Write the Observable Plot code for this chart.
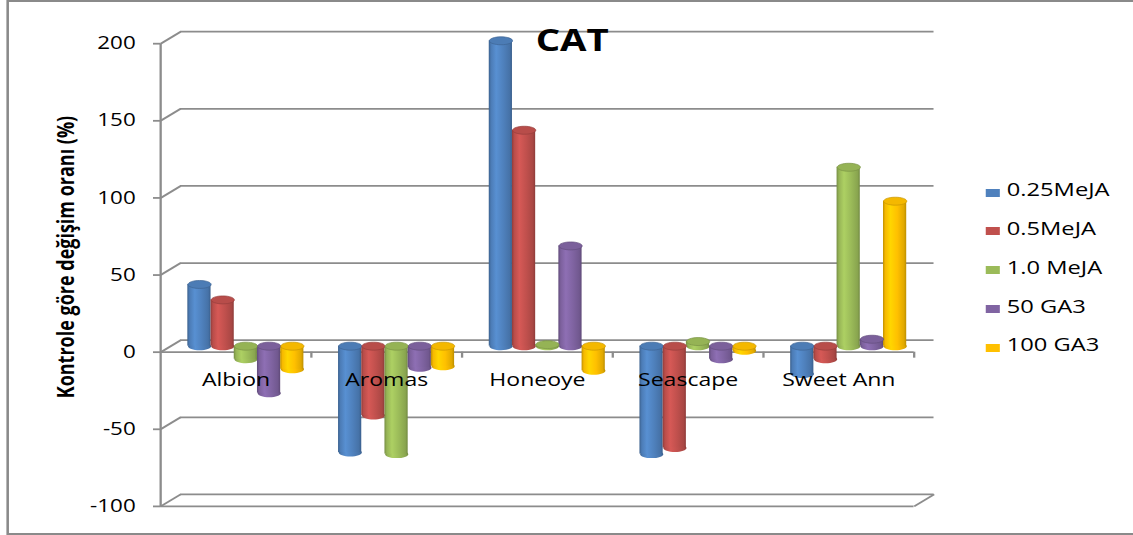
<!DOCTYPE html>
<html>
<head>
<meta charset="utf-8">
<script src="https://cdn.jsdelivr.net/npm/d3@7"></script>
<script src="https://cdn.jsdelivr.net/npm/@observablehq/plot@0.6"></script>
<style>
  html, body { margin: 0; padding: 0; background: #fff; overflow: hidden; }
  /* the chart is laid out at 885px and widened horizontally to 1133px */
  #chart { position: relative; width: 885px; height: 535px; transform: scaleX(1.2802); transform-origin: 0 0;
           font-family: "Open Sans", sans-serif; color: #000; }
  #frame { position: absolute; left: 5px; top: 0; width: 1000px; height: 535px; box-sizing: border-box;
           border: 2px solid #8a8a8a; }
  #plot { position: absolute; left: 0; top: 0; }
  #legend { position: absolute; left: 770px; top: 0; }
  .row { position: absolute; left: 0; height: 26px; line-height: 26px; font-size: 18.5px; white-space: nowrap; }
  .sw { position: absolute; left: 0; top: 12.3px; width: 11px; height: 8px; }
  .lab { position: absolute; left: 16.4px; top: 0; }
</style>
</head>
<body>
<div id="chart">
  <div id="frame"></div>
  <div id="plot"></div>
  <div id="legend"></div>
</div>
<script>
// Cultivars and treatments
const categories = ["Albion", "Aromas", "Honeoye", "Seascape", "Sweet Ann"];
const seriesNames = ["0.25MeJA", "0.5MeJA", "1.0 MeJA", "50 GA3", "100 GA3"];

// Change relative to control (%), one value per cultivar
const meja025 = [40, -69, 198, -70, -18];
const meja05 = [30, -45, 140, -66, -8.5];
const meja10 = [-8.5, -70, 1, 3, 116];
const ga50 = [-30.5, -14, 65, -8.5, 4.5];
const ga100 = [-15, -13, -16, -3, 94];
const seriesValues = [meja025, meja05, meja10, ga50, ga100];

const seriesColors = ["#4F81BD", "#C0504D", "#9BBB59", "#8064A2", "#FFC000"];
const yTicks = [-100, -50, 0, 50, 100, 150, 200];
const chartTitle = "CAT";
const yTitle = "Kontrole göre değişim oranı (%)";

// layout
const W = 885, H = 535;
const mL = 132.8, mR = 163.6, mT = 37.2, mB = 35.1;
const DX = 7.8, DY = 6;              // half-depth of the 3D box, px
const GRID = "#8c8c8c";
const PAD = 0.115;                    // gap at each side of a bar group (category units)
const BW = (1 - 2 * PAD) / seriesNames.length;
const RX = 9.05, RY_RATIO = 0.44;     // cylinder end ellipses

const pxX = px => px * categories.length / (W - mL - mR);
const pxY = px => px * 300 / (H - mT - mB);
const ux = pxX(DX), uy = pxY(DY);

const rows = categories.flatMap((cat, ci) =>
  seriesValues.map((vals, si) => ({cat, ci, si, value: vals[ci]})));

const x1Of = d => d.ci + PAD + d.si * BW;
const cxOf = d => x1Of(d) + BW / 2;

const ellipse = {
  draw(context, size) {
    const rx = Math.sqrt(size / Math.PI), ry = rx * RY_RATIO, k = 0.5523;
    context.moveTo(-rx, 0);
    context.bezierCurveTo(-rx, -ry * k, -rx * k, -ry, 0, -ry);
    context.bezierCurveTo(rx * k, -ry, rx, -ry * k, rx, 0);
    context.bezierCurveTo(rx, ry * k, rx * k, ry, 0, ry);
    context.bezierCurveTo(-rx * k, ry, -rx, ry * k, -rx, 0);
    context.closePath();
  }
};

const capFill = seriesColors.map(c => d3.color(c).darker(0.12).formatHex());
const capStroke = seriesColors.map(c => d3.color(c).darker(0.7).formatHex());

const svg = Plot.plot({
  width: W, height: H,
  marginLeft: mL, marginRight: mR, marginTop: mT, marginBottom: mB,
  x: {domain: [0, categories.length], axis: null},
  y: {domain: [-100, 200]},
  color: {type: "identity"},
  style: {fontFamily: "'Open Sans', sans-serif", fontSize: "17.5px", color: "#000", background: "transparent", overflow: "visible"},
  marks: [
    // back wall grid
    Plot.ruleY(yTicks, {y: d => d, x1: 0, x2: categories.length, dx: DX, dy: -DY, stroke: GRID, strokeWidth: 1.8}),
    // side wall edges at each tick
    Plot.link(yTicks, {x1: -ux, y1: d => d - uy, x2: ux, y2: d => d + uy, stroke: GRID, strokeWidth: 1.8}),
    // right edge of the floor
    Plot.link([-100], {x1: categories.length - ux, y1: d => d - uy, x2: categories.length + ux, y2: d => d + uy, stroke: GRID, strokeWidth: 1.8}),
    // front edges: floor and zero line
    Plot.ruleY([-100, 0], {y: d => d, x1: 0, x2: categories.length, dx: -DX, dy: DY, stroke: GRID, strokeWidth: 1.8}),
    // front vertical axis line
    Plot.ruleX([0], {x: d => d, y1: -100, y2: 200, dx: -DX, dy: DY, stroke: GRID, strokeWidth: 1.8}),
    // category separators on the zero line
    Plot.ruleX(d3.range(1, categories.length + 1), {x: d => d, y1: 0, y2: -pxY(6), dx: -DX, dy: DY, stroke: GRID, strokeWidth: 1.8}),
    Plot.axisY({ticks: yTicks, tickFormat: d => `${d}`, tickSize: 5.5, tickPadding: 14, dx: -DX, dy: DY, label: null,
                stroke: GRID, strokeWidth: 1.8, fill: "#000", fontSize: 17.5}),
    // cylinders: lower end, body, upper cap
    Plot.dot(rows, {x: cxOf, y: d => Math.min(0, d.value), r: RX, symbol: ellipse, fill: d => `url(#cyl-${d.si})`}),
    Plot.rect(rows, {x1: x1Of, x2: d => x1Of(d) + BW, y1: 0, y2: "value", fill: d => `url(#cyl-${d.si})`}),
    Plot.dot(rows, {x: cxOf, y: d => Math.max(0, d.value), r: RX, symbol: ellipse,
                    fill: d => capFill[d.si], stroke: d => capStroke[d.si], strokeWidth: 0.6}),
    // category labels
    Plot.text(categories, {x: (d, i) => i + 0.5, y: 0, dx: -DX, dy: 34, fontSize: 18, fill: "#000"}),
    Plot.text([chartTitle], {frameAnchor: "top", lineAnchor: "middle", textAnchor: "middle", dx: 19.4, dy: 4,
                             fontSize: 30, fontWeight: "bold", fill: "#000"}),
    Plot.text([yTitle], {frameAnchor: "left", lineAnchor: "middle", textAnchor: "middle", rotate: -90,
                         dx: -81, dy: -12, fontSize: 18, fontWeight: "bold", fill: "#000"})
  ]
});

// horizontal shading that makes the bars read as cylinders
const defs = d3.select(svg).insert("defs", ":first-child");
seriesColors.forEach((c, i) => {
  const base = d3.color(c);
  const g = defs.append("linearGradient").attr("id", `cyl-${i}`)
    .attr("x1", 0).attr("x2", 1).attr("y1", 0).attr("y2", 0);
  [[0, base.darker(0.8)], [0.1, base.darker(0.1)], [0.32, base.brighter(0.3)],
   [0.62, base], [0.9, base.darker(0.35)], [1, base.darker(0.85)]]
    .forEach(([o, col]) => g.append("stop").attr("offset", o).attr("stop-color", col.formatHex()));
});

document.getElementById("plot").appendChild(svg);

// legend
const capCenters0 = 190, rowStep = 38.75;
const legend = d3.select("#legend");
seriesNames.forEach((name, i) => {
  const row = legend.append("div").attr("class", "row").style("top", `${capCenters0 + i * rowStep - 13.6}px`);
  row.append("div").attr("class", "sw").style("background", seriesColors[i]);
  row.append("div").attr("class", "lab").text(name);
});
</script>
</body>
</html>
